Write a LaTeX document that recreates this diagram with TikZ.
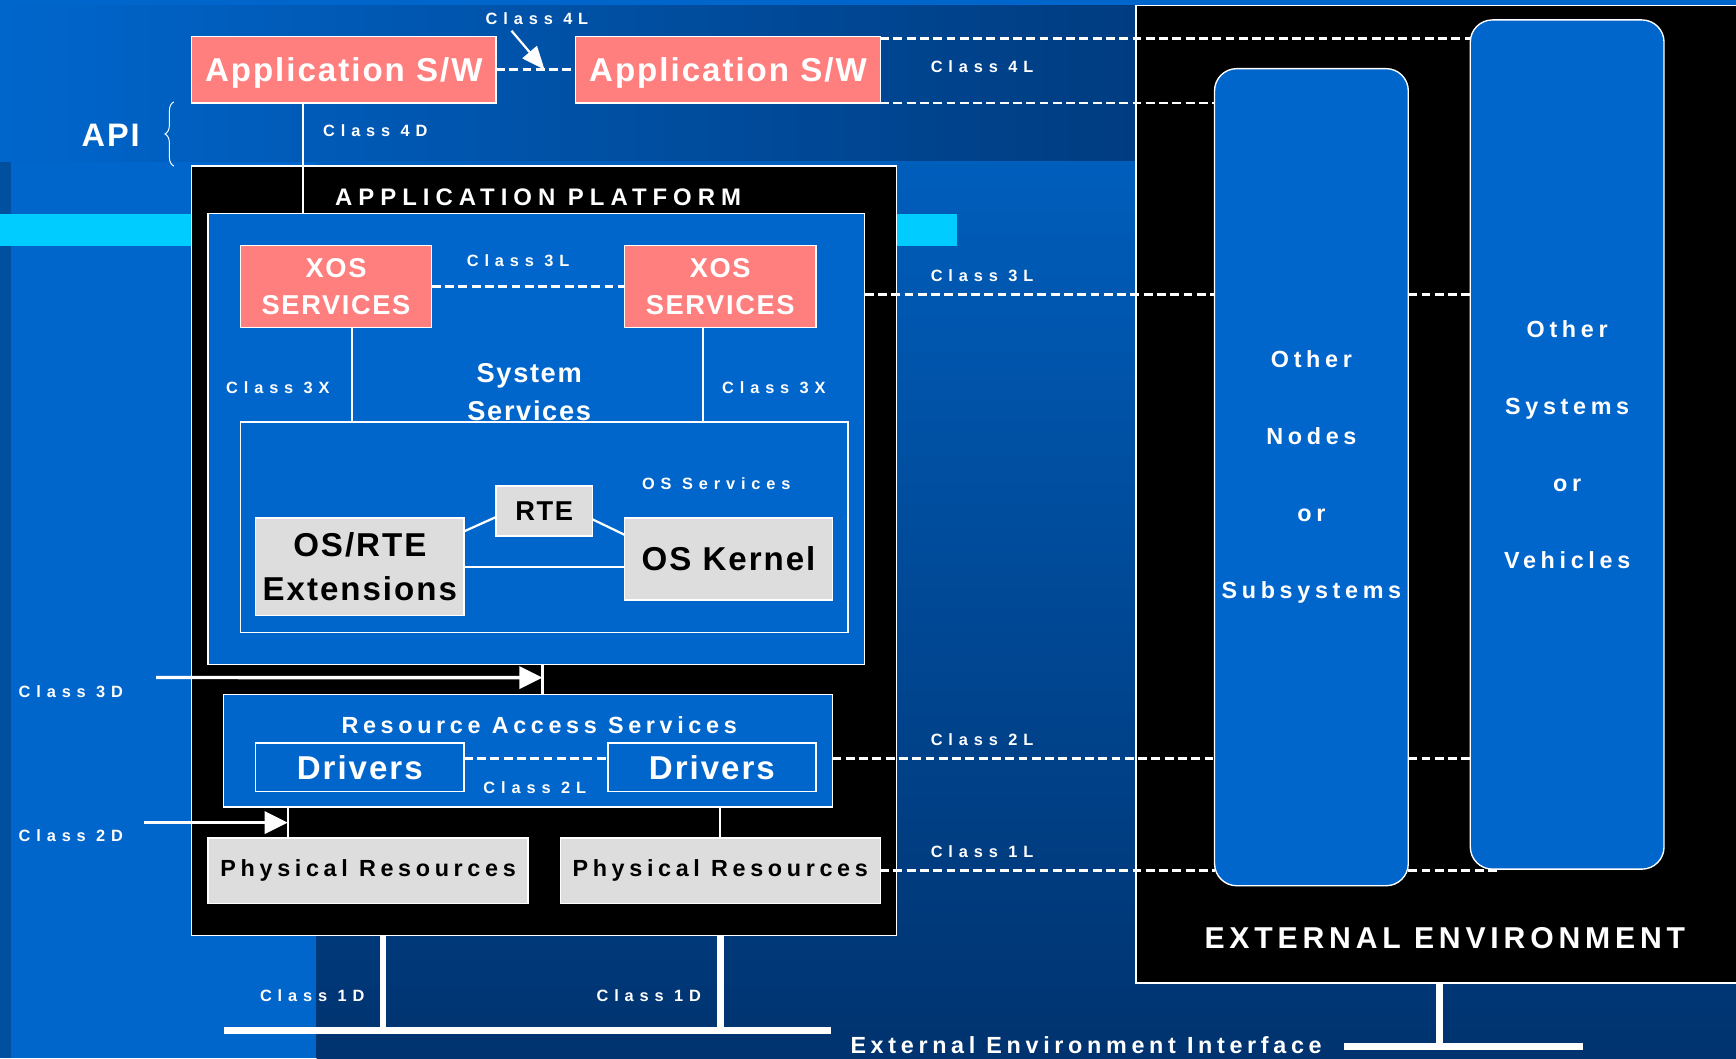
\documentclass[tikz,border=0pt]{standalone}
\usepackage{fontspec}
\setmainfont{Liberation Sans}
\newfontfamily\tagfont{Liberation Sans}[LetterSpace=36]
\newfontfamily\capfont{Liberation Sans}[LetterSpace=20]
\newfontfamily\titlefont{Liberation Sans}[LetterSpace=25]
\newfontfamily\envfont{Liberation Sans}[LetterSpace=16]
\newfontfamily\boxfont{Liberation Sans}[LetterSpace=6]
\usetikzlibrary{arrows.meta, decorations.pathreplacing, calc}

\definecolor{slide}{HTML}{0066CC}
\definecolor{slidedark}{HTML}{003C80}
\definecolor{navy}{HTML}{00336F}
\definecolor{edgeblue}{HTML}{00509F}
\definecolor{cyanbar}{HTML}{00CCFF}
\definecolor{salmon}{HTML}{FF7F7F}
\definecolor{chip}{HTML}{DDDDDD}

\begin{document}
\begin{tikzpicture}[
  x=0.2mm, y=-0.2mm,
  box/.style={draw=white, line width=0.7pt, inner sep=0pt, outer sep=0pt, align=center},
  swbox/.style={box, fill=salmon, text=white, text depth=0pt, font=\boxfont\bfseries\fontsize{17}{20}\selectfont},
  xosbox/.style={box, fill=salmon, text=white, minimum width=34.6mm, minimum height=14.8mm,
    font=\boxfont\bfseries\fontsize{14}{19.3}\selectfont},
  greybox/.style={box, fill=chip, text=black, font=\boxfont\bfseries\fontsize{17}{22.7}\selectfont},
  bluebox/.style={box, fill=slide, text=white, font=\boxfont\bfseries\fontsize{17}{20}\selectfont},
  peer/.style={box, fill=slide, text=white, rounded corners=4mm, minimum width=35mm,
    font=\capfont\bfseries\fontsize{12}{39.5}\selectfont},
  tag/.style={text=white, inner sep=0pt, font=\tagfont\bfseries\fontsize{8.4}{10}\selectfont},
  heading/.style={text=white, inner sep=0pt, align=center, font=\capfont\bfseries\fontsize{12}{14}\selectfont},
  link/.style={draw=white, line width=0.4mm},
  dashlink/.style={draw=white, line width=0.5mm, dash pattern=on 1.6mm off 0.8mm},
  bus/.style={draw=white, line width=1.2mm},
  pointer/.style={draw=white, line width=0.6mm, -{Triangle[length=4.2mm, width=4mm]}},
]
  \useasboundingbox (0,0) rectangle (1568,956);

  % slide background
  \fill[slide] (0,0) rectangle (1568,956);
  \shade[left color=slide, right color=slidedark] (0,5) rectangle (1026,146);
  \shade[top color=slide!92!black, bottom color=navy] (286,146) rectangle (1568,956);
  \fill[edgeblue] (0,146) rectangle (10,956);
  \fill[cyanbar] (0,193) rectangle (864,222);

  % external environment
  \node[box, fill=black, minimum width=109.6mm, minimum height=176.6mm] (extenv) at (1300,446.5) {};
  \node[text=white, inner sep=0pt, font=\envfont\bfseries\fontsize{15.5}{18}\selectfont]
    (extenvtitle) at (1305,847) {EXTERNAL ENVIRONMENT};
  \node[peer, minimum height=147.6mm] (nodes) at (1184.5,431) {Other\\Nodes\\or\\Subsystems};
  \node[peer, minimum height=153.4mm] (systems) at (1415.5,401.5) {Other\\Systems\\or\\Vehicles};

  % application software
  \node[swbox, minimum width=55mm, minimum height=12mm] (app1) at (310.5,63) {Application S/W};
  \node[swbox, minimum width=55mm, minimum height=12mm] (app2) at (657.5,63) {Application S/W};
  \node[text=white, inner sep=0pt, font=\boxfont\bfseries\fontsize{16.7}{20}\selectfont] (api) at (100,122) {API};
  \draw[white, line width=0.5pt, decorate, decoration={brace, amplitude=1.6mm}] (157,150) -- (157,92);

  % application platform
  \node[box, fill=black, minimum width=127.4mm, minimum height=139mm] (platform) at (491.5,497.5) {};
  \node[heading, font=\titlefont\bfseries\fontsize{12.3}{14}\selectfont] (platformtitle) at (486,178) {APPLICATION PLATFORM};
  \node[bluebox, minimum width=118.6mm, minimum height=81.4mm] (syssvc) at (484.5,396.5) {};
  \node[xosbox] (xos1) at (303.5,259) {XOS\\SERVICES};
  \node[xosbox] (xos2) at (650.5,259) {XOS\\SERVICES};
  \node[heading, font=\boxfont\bfseries\fontsize{14}{19.3}\selectfont] (systitle) at (478,354) {System\\Services};
  \node[box, minimum width=109.8mm, minimum height=38mm] (ossvc) at (491.5,476) {};
  \node[greybox, font=\boxfont\bfseries\fontsize{14}{17}\selectfont, minimum width=17.4mm, minimum height=9mm]
    (rte) at (491.5,461.5) {RTE};
  \node[greybox, minimum width=37.6mm, minimum height=17.6mm] (osext) at (325,512) {OS/RTE\\Extensions};
  \node[greybox, minimum width=37.6mm, minimum height=14.8mm] (kernel) at (658,505) {OS Kernel};

  % resource access
  \node[bluebox, minimum width=110mm, minimum height=20.4mm] (ras) at (477,678) {};
  \node[heading] (rastitle) at (487,655) {Resource Access Services};
  \node[bluebox, minimum width=37.6mm, minimum height=8.8mm] (drv1) at (325,693) {Drivers};
  \node[bluebox, minimum width=37.6mm, minimum height=8.8mm] (drv2) at (643,693) {Drivers};
  \node[greybox, font=\capfont\bfseries\fontsize{12}{14}\selectfont, minimum width=57.8mm, minimum height=11.8mm]
    (phys1) at (332.5,786.5) {Physical Resources};
  \node[greybox, font=\capfont\bfseries\fontsize{12}{14}\selectfont, minimum width=57.8mm, minimum height=11.8mm]
    (phys2) at (650.5,786.5) {Physical Resources};

  % class labels
  \node[tag] (c4l) at (485,17) {Class 4L};
  \node[tag] (c4lext) at (887,60) {Class 4L};
  \node[tag] (c4d) at (339,118) {Class 4D};
  \node[tag] (c3l) at (468,235) {Class 3L};
  \node[tag] (c3lext) at (887,249) {Class 3L};
  \node[tag] (c3xa) at (251,350) {Class 3X};
  \node[tag] (c3xb) at (699,350) {Class 3X};
  \node[tag] (ossvclbl) at (647,437) {OS Services};
  \node[tag] (c3d) at (64,625) {Class 3D};
  \node[tag] (c2l) at (483,711) {Class 2L};
  \node[tag] (c2lext) at (887,668) {Class 2L};
  \node[tag] (c2d) at (64,755) {Class 2D};
  \node[tag] (c1l) at (887,769) {Class 1L};
  \node[tag] (c1da) at (282,899) {Class 1D};
  \node[tag] (c1db) at (586,899) {Class 1D};
  \node[heading] (eeilbl) at (981,944) {External Environment Interface};

  % helper points
  \coordinate (c4ltip) at ($(app1.east)!0.61!(app2.west)$);
  \coordinate (apidrop) at ([xshift=-7.3mm]app1.south);
  \coordinate (xosdrop1) at ([xshift=2.9mm]xos1.south);
  \coordinate (xosdrop2) at ([xshift=-3.1mm]xos2.south);
  \coordinate (peer4l) at ([yshift=-0.4mm]app2.north east);
  \coordinate (peer3l) at ([yshift=26.1mm]syssvc.east);
  \coordinate (peer2l) at ([yshift=1.6mm]drv1.east);
  \coordinate (drop3d) at ([xshift=1.1mm]syssvc.south);
  \coordinate (tip3d) at ([yshift=-2.4mm]drop3d);
  \coordinate (tail3d) at (141,612);
  \coordinate (drop2d) at (260,729);
  \coordinate (tip2d) at (260,743);
  \coordinate (tail2d) at (130,743);
  \coordinate (busw) at (202,931);
  \coordinate (buse) at (751,931);
  \coordinate (bustap) at ([xshift=-29.1mm]platform.south);
  \coordinate (ifbar) at ([yshift=-11.4mm]extenv.south);

  % level 4
  \draw[dashlink] (app1) -- (app2);
  \draw[draw=white, line width=0.4mm, -{Triangle[length=4.2mm, width=3.4mm]}]
    ([xshift=-4.6mm, yshift=-1mm]c4l.south) -- (c4ltip);
  \draw[dashlink] (peer4l) -- (peer4l -| systems.west);
  \draw[dashlink] (app2.south east) -- (app2.south east -| nodes.west);
  \draw[link] (apidrop) -- (apidrop |- syssvc.north);

  % level 3
  \draw[dashlink] (xos1) -- (xos2);
  \draw[dashlink] (peer3l) -- (peer3l -| nodes.west);
  \draw[dashlink] (peer3l -| nodes.east) -- (peer3l -| systems.west);
  \draw[link] (xosdrop1) -- (xosdrop1 |- ossvc.north);
  \draw[link] (xosdrop2) -- (xosdrop2 |- ossvc.north);
  \draw[link] ([yshift=-2.4mm]osext.north east) -- ([yshift=3.4mm]rte.south west);
  \draw[link] ([yshift=-1.5mm]rte.east) -- ([yshift=-3mm]kernel.north west);
  \draw[link] (osext.east) -- (osext.east -| kernel.west);
  \draw[link] (drop3d) -- (drop3d |- ras.north);
  \draw[pointer] (tail3d) -- (tip3d);

  % level 2
  \draw[dashlink] (peer2l) -- (peer2l -| drv2.west);
  \draw[dashlink] (peer2l -| ras.east) -- (peer2l -| nodes.west);
  \draw[dashlink] (peer2l -| nodes.east) -- (peer2l -| systems.west);
  \draw[link] (drop2d) -- (drop2d |- phys1.north);
  \draw[pointer] (tail2d) -- (tip2d);
  \draw[link] (phys2.north) -- (phys2.north |- ras.south);

  % level 1
  \draw[dashlink] (phys2.east) -- (phys2.east -| nodes.west);
  \draw[dashlink] (phys2.east -| nodes.east) -- ([xshift=5mm]phys2.east -| systems.west);
  \draw[bus] (busw) -- (buse);
  \draw[bus] (bustap) -- (bustap |- busw);
  \draw[bus] (phys2.south |- platform.south) -- (phys2.south |- busw);
  \draw[bus] (extenv.south) -- (ifbar);
  \draw[bus] ([xshift=-17.2mm]ifbar) -- ([xshift=26mm]ifbar);
\end{tikzpicture}
\end{document}
